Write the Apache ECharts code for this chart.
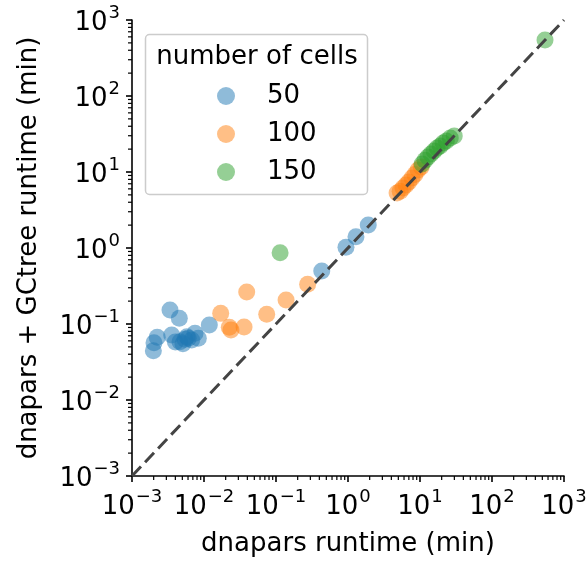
<!DOCTYPE html>
<html><head><meta charset="utf-8">
<script src="https://cdn.jsdelivr.net/npm/echarts@6/dist/echarts.min.js"></script>
<style>html,body{margin:0;padding:0;background:#fff}#c{width:588px;height:562px}</style>
</head><body><div id="c"></div>
<script>
const seriesNames = ['50', '100', '150'];
const blueX = [0.00198,0.00202,0.00224,0.00337,0.00454,0.00356,0.00464,0.00545,0.00605,0.00675,0.0075,0.00834,0.0040,0.0051,0.0058,0.01186,0.432,0.937,1.29,1.91];
const blueY = [0.0446,0.0568,0.0668,0.153,0.119,0.0716,0.0585,0.0629,0.0649,0.0615,0.0755,0.0649,0.058,0.055,0.068,0.097,0.498,1.02,1.41,2.01];
const orangeX = [0.01706,0.02244,0.0237,0.036,0.0392,0.0743,0.138,0.275,4.8,5.3,5.8,6.4,7.0,7.74,8.5,9.4,10.4];
const orangeY = [0.138,0.0906,0.0834,0.0914,0.264,0.134,0.207,0.333,5.3,5.6,6.15,6.74,7.4,8.34,9.3,10.6,11.6];
const greenX = [0.114,10.7,11.7,12.9,14.2,15.7,17.3,19.1,21.0,23.2,26.3,29.9,545];
const greenY = [0.867,12.7,14.3,15.7,17.2,18.9,20.7,22.0,24.0,25.5,28.0,29.7,546];
const diagonal = [[0.001,0.001],[1000,1000]];
const decades = [0.001,0.01,0.1,1,10,100];
const minorMultipliers = [2,3,4,5,6,7,8,9];
const colors = ['#1f77b4','#ff7f0e','#2ca02c'];

const minorVals = [];
decades.forEach(d => minorMultipliers.forEach(m => minorVals.push(+(d*m).toPrecision(3))));

const zip = (a,b) => a.map((v,i)=>[v,b[i]]);
function fmt(v){
  const e = Math.round(Math.log10(v));
  return '{b|10}{s|' + String(e).replace('-','\u2212') + '}';
}
const rich = {
  b:{fontFamily:'DejaVu Sans',fontSize:26,color:'#000',lineHeight:32,verticalAlign:'bottom'},
  s:{fontFamily:'DejaVu Sans',fontSize:18,color:'#000',lineHeight:32,verticalAlign:'top',padding:[0,0,0,1]}
};
function axis(name, isY){
  return {
    type:'log', logBase:10, min:0.001, max:1000,
    name:name, nameLocation:'middle', nameGap: isY?90:55,
    nameTextStyle:{fontFamily:'DejaVu Sans',fontSize:26,color:'#000'},
    axisLine:{show:true,lineStyle:{color:'#000',width:1.6}},
    axisTick:{show:true,inside:false,length:6,lineStyle:{color:'#000',width:1.6}},
    minorTick:{show:false},
    splitLine:{show:false},
    axisLabel:{formatter:fmt,rich:rich,margin:12,showMinLabel:true,showMaxLabel:true}
  };
}
const chart = echarts.init(document.getElementById('c'),null,{renderer:'canvas'});
const sc = (name,x,y,c)=>({
  name:name,type:'scatter',data:zip(x,y),symbolSize:17,
  itemStyle:{color:c,opacity:0.5},z:3
});
const minorTicks = (isY)=>({
  type:'scatter',silent:true,z:6,clip:false,
  data:minorVals.map(v=> isY ? [0.001,v] : [v,0.001]),
  symbol:'rect',
  symbolSize: isY ? [4,1.2] : [1.2,4],
  symbolOffset: isY ? [-2,0] : [0,2],
  itemStyle:{color:'#000',opacity:1},
  emphasis:{disabled:true},
  tooltip:{show:false}
});
chart.setOption({
  animation:false,
  grid:{left:132,right:24,top:20,bottom:86,containLabel:false,outerBoundsMode:'none'},
  xAxis:axis('dnapars runtime (min)',false),
  yAxis:axis('dnapars + GCtree runtime (min)',true),
  legend:{
    orient:'vertical',left:212,top:77,itemWidth:18,itemHeight:18,itemGap:10,
    icon:'circle',z:20,
    data:seriesNames.map((n,i)=>({name:n,itemStyle:{color:colors[i],opacity:0.5}})),
    textStyle:{fontFamily:'DejaVu Sans',fontSize:26,lineHeight:28,color:'#000',padding:[0,0,0,27]}
  },
  graphic:[
    {type:'rect',shape:{x:145.5,y:34.5,width:222,height:160,r:4},style:{fill:'#fff',stroke:'#ccc',lineWidth:1.5},z:1},
    {type:'text',x:257,y:57,style:{text:'number of cells',font:'26px DejaVu Sans',fill:'#000',textAlign:'center',textVerticalAlign:'middle'},z:21}
  ],
  series:[
    {type:'line',data:diagonal,symbol:'none',lineStyle:{color:'#444',width:3,type:[13,6]},z:5,silent:true},
    sc(seriesNames[0],blueX,blueY,colors[0]),
    sc(seriesNames[1],orangeX,orangeY,colors[1]),
    sc(seriesNames[2],greenX,greenY,colors[2]),
    minorTicks(false),
    minorTicks(true)
  ]
});
</script></body></html>
